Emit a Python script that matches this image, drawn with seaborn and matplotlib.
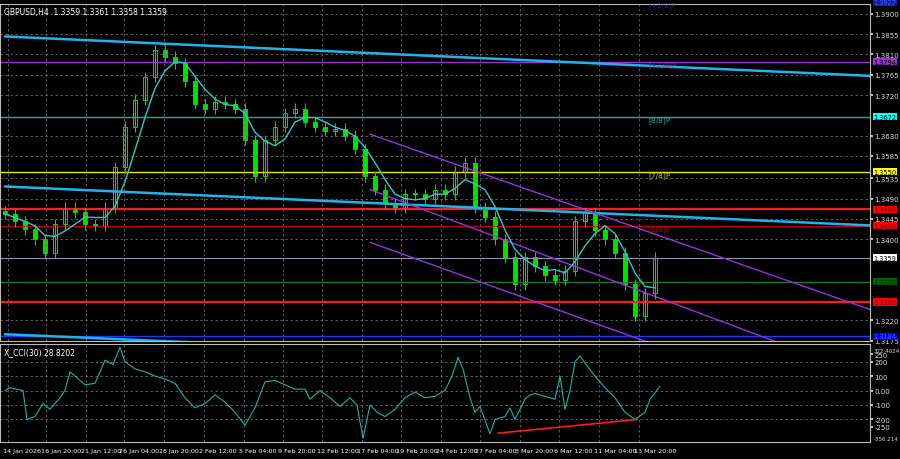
import matplotlib
matplotlib.use("Agg")
import matplotlib.pyplot as plt
import seaborn as sns
import numpy as np
import pandas as pd

closes = [1.3456,1.3440,1.3422,1.3400,1.3370,1.3433,1.3470,1.3460,1.3433,1.3430,
          1.3470,1.3560,1.3650,1.3710,1.3760,1.3820,1.3805,1.3790,1.3750,1.3700,
          1.3690,1.3705,1.3700,1.3690,1.3620,1.3540,1.3620,1.3650,1.3680,1.3690,
          1.3660,1.3650,1.3640,1.3645,1.3630,1.3600,1.3540,1.3510,1.3480,1.3470,
          1.3500,1.3500,1.3490,1.3510,1.3500,1.3550,1.3570,1.3470,1.3450,1.3400,
          1.3360,1.3300,1.3360,1.3340,1.3320,1.3310,1.3330,1.3440,1.3460,1.3420,
          1.3400,1.3370,1.3300,1.3230,1.3280,1.3359]
opens = [1.3462] + closes[:-1]

cci_x = [0,5,18,22,30,38,45,55,60,65,70,80,90,100,108,115,120,130,140,150,160,170,180,190,200,
         210,220,230,240,250,260,270,280,290,300,305,315,325,335,345,352,358,365,372,380,390,400,
         410,420,430,440,447,453,458,465,470,475,485,490,500,505,510,520,525,530,540,550,555,560,
         565,570,575,580,590,600,610,620,630,640,645,655]
cci_v = [0,20,0,-200,-180,-90,-130,-50,0,130,100,40,50,210,180,300,200,150,130,100,80,50,-50,-120,-90,
         -30,-80,-150,-240,-120,60,70,40,10,10,-60,0,-50,-110,-50,-100,-330,-100,-150,-180,-130,-50,
         -10,-50,-40,0,100,230,150,-50,-150,-110,-300,-200,-180,-120,-200,-60,-30,-20,-40,-60,100,-130,
         0,200,240,190,100,20,-50,-150,-200,-150,-60,30]

date_labels = ["14 Jan 2026","16 Jan 20:00","21 Jan 12:00","26 Jan 04:00","28 Jan 20:00","2 Feb 12:00",
               "5 Feb 04:00","9 Feb 20:00","12 Feb 12:00","17 Feb 04:00","19 Feb 20:00","24 Feb 12:00",
               "27 Feb 04:00","3 Mar 20:00","6 Mar 12:00","11 Mar 04:00","13 Mar 20:00"]
date_px = [3,41,81,119,159,199,239,278,317,357,396,436,475,515,554,594,634]

hlevels = [1.3927,1.3794,1.3672,1.3550,1.3466,1.3430,1.3359,1.3306,1.3260,1.3184]
hcolors = ["#1a1aa0","#9b30d0","#2aa8a8","#e8e800","#ff1a1a","#c00000","#8899aa","#1e7a1e","#ff1a1a","#1a3aff"]
hwidth = [1,1,1,1,1.6,0.8,0.8,1,1.6,1]
hlabel_bg = ["#1a1aa0","#9b30d0","#00ffff","#ffff00","#ff0000","#ff0000","#ffffff","#006400","#ff0000","#0000ff"]
hlabel_fg = ["#4060ff","#000000","#000000","#000000","#800000","#800000","#000000","#003000","#800000","#4060ff"]
murrey_txt = [("[+2/8]P",1.3927,"#2a2aa0"),("[+1/8]P",1.3794,"#7a30b0"),("[8/8]P",1.3672,"#2aa8a8"),
              ("[7/8]P",1.3550,"#c8c800"),("[6/8]P",1.3430,"#c00000")]
cyan_lines = [((0,1.3850),(87,1.3762)),((0,1.3517),(87,1.3430)),((0,1.3189),(23,1.3167))]
purple_lines = [((36.5,1.3633),(87,1.3240)),((36.5,1.3510),(87,1.3090)),((36.5,1.3393),(87,1.2990))]
cci_red = ((49.3,-295),(63.3,-200))

sns.set_theme(style="dark")
plt.rcParams['font.family'] = ['DejaVu Sans']
fig = plt.figure(figsize=(9,4.6), dpi=100, facecolor="black")
ax = fig.add_axes([0, 118/460, 870/900, 337/460], facecolor="black")
ax2 = fig.add_axes([0, 17/460, 870/900, 98/460], facecolor="black")

xmax = 87.0
for a in (ax, ax2):
    a.set_xlim(-0.5, xmax - 0.5)
    for p in date_px:
        a.axvline(p/10, color="#6a6a6a", lw=0.6, ls=(0,(3,3)))
    for s in a.spines.values():
        s.set_color("#bbbbbb"); s.set_linewidth(0.8)
    a.yaxis.tick_right()
    a.tick_params(axis="y", colors="#dddddd", labelsize=5.0, length=2, pad=1)
    a.tick_params(axis="x", length=0)
    a.set_xticks([])

ax.set_ylim(1.3174, 1.3922)
pt = [1.3900,1.3855,1.3810,1.3765,1.3720,1.3630,1.3585,1.3535,1.3490,1.3445,1.3400,1.3220,1.3175]
ax.set_yticks(pt)
ax.set_yticklabels([f"{v:.4f}" for v in pt])
for v in pt:
    ax.axhline(v, color="#6a6a6a", lw=0.6, ls=(0,(3,3)))

for v, c, w in zip(hlevels, hcolors, hwidth):
    ax.axhline(v, color=c, lw=w)
for (t, v, c) in murrey_txt:
    ax.text(64.3, v, t, color=c, fontsize=5.3, va="top")
for v, bg, fg in zip(hlevels, hlabel_bg, hlabel_fg):
    ax.text(1.004, v, f"{v:.4f}", transform=ax.get_yaxis_transform(), fontsize=4.8, color=fg, va="center",
            bbox=dict(boxstyle="square,pad=0.12", fc=bg, ec="none"), clip_on=False)

for (p0, p1) in cyan_lines:
    ax.plot([p0[0], p1[0]], [p0[1], p1[1]], color="#1eb4f0", lw=1.8)
for (p0, p1) in purple_lines:
    ax.plot([p0[0], p1[0]], [p0[1], p1[1]], color="#9b30e0", lw=1.0)

idx = np.arange(len(closes))
o = np.array(opens); c = np.array(closes)
lo = np.minimum(o, c); hi = np.maximum(o, c)
ax.vlines(idx, lo - 0.0012, hi + 0.0012, color="#00e000", lw=0.8)
ax.bar(idx, np.maximum(hi - lo, 0.0002), bottom=lo, width=0.35,
       color=np.where(c >= o, "black", "#00e000"), edgecolor="#00e000", linewidth=0.7)

df = pd.DataFrame({"x": idx, "ma": pd.Series(closes).rolling(4, min_periods=1).mean()})
sns.lineplot(data=df, x="x", y="ma", ax=ax, color="#30c8c8", lw=1.0)
ax.set_xlabel(""); ax.set_ylabel("")
ax.text(0.005, 0.99, "GBPUSD,H4  1.3359 1.3361 1.3358 1.3359", transform=ax.transAxes,
        color="white", fontsize=5.5, va="top")

ax2.set_ylim(-356.214, 322.4024)
ct = [250,200,100,0,-100,-200,-250]
ax2.set_yticks(ct)
ax2.set_yticklabels(["250","200","100","0.00","-100","-200","-250"])
for v in [200,100,0,-100,-200]:
    ax2.axhline(v, color="#6a6a6a", lw=0.6, ls=(0,(3,3)))
cdf = pd.DataFrame({"x": np.array(cci_x)/10, "v": cci_v})
sns.lineplot(data=cdf, x="x", y="v", ax=ax2, color="#20b0b0", lw=0.8)
ax2.plot([cci_red[0][0], cci_red[1][0]], [cci_red[0][1], cci_red[1][1]], color="#ff1a1a", lw=1.2)
ax2.set_xlabel(""); ax2.set_ylabel("")
ax2.text(0.005, 0.97, "X_CCI(30) 28.8202", transform=ax2.transAxes, color="white", fontsize=5.5, va="top")
ax2.text(1.004, 0.96, "322.4024", transform=ax2.transAxes, color="#dddddd", fontsize=4.0, va="top", clip_on=False)
ax2.text(1.004, 0.015, "-356.214", transform=ax2.transAxes, color="#dddddd", fontsize=4.0, va="bottom", clip_on=False)

for lbl, p in zip(date_labels, date_px):
    fig.text(p/900, 8/460, lbl, color="white", fontsize=4.6, va="center", ha="left")

fig.savefig("out.png", dpi=100, facecolor="black")
